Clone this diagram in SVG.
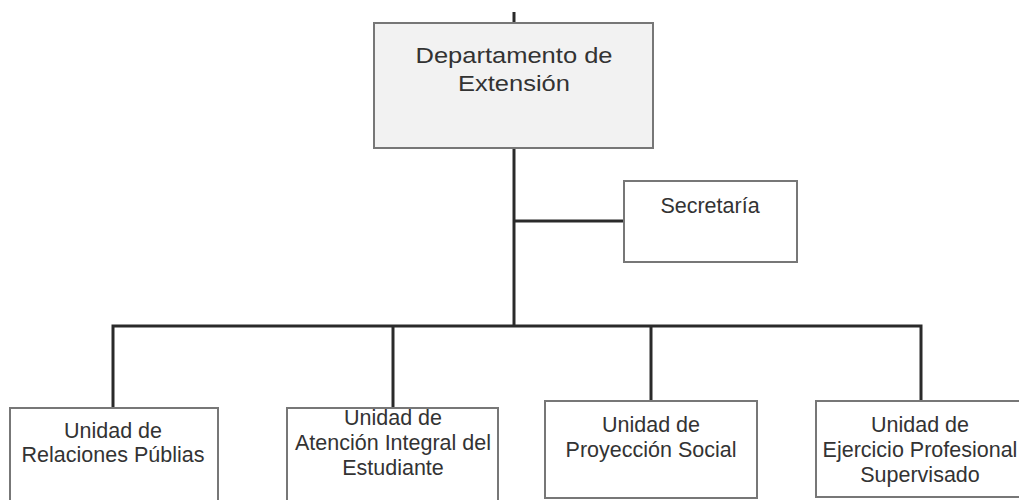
<svg xmlns="http://www.w3.org/2000/svg" width="1019" height="500" viewBox="0 0 1019 500">
<style>
.box{fill:#ffffff;stroke:#777777;stroke-width:2}
.main{fill:#f2f2f2;stroke:#777777;stroke-width:2}
.ln{stroke:#2a2a2a;stroke-width:3;fill:none}
text{font-family:"Liberation Sans",Arial,sans-serif;fill:#333333;text-anchor:middle}
.t{font-size:21.5px}
.h{font-size:22px}
</style>
<rect width="1019" height="500" fill="#ffffff"/>
<g id="connectors">
<line class="ln" x1="514" y1="12" x2="514" y2="23"/>
<line class="ln" x1="514" y1="148" x2="514" y2="326"/>
<line class="ln" x1="514" y1="221" x2="624" y2="221"/>
<polyline class="ln" points="113,408 113,326 921,326 921,401"/>
<line class="ln" x1="393" y1="326" x2="393" y2="408"/>
<line class="ln" x1="651" y1="326" x2="651" y2="401"/>
</g>
<g id="departamento">
<rect class="main" x="374" y="23" width="279" height="125"/>
<text class="h" x="514" y="63" textLength="197" lengthAdjust="spacingAndGlyphs">Departamento de</text>
<text class="h" x="514" y="91" textLength="112" lengthAdjust="spacingAndGlyphs">Extensión</text>
</g>
<g id="secretaria">
<rect class="box" x="624" y="181" width="173" height="81"/>
<text class="t" x="710" y="213">Secretaría</text>
</g>
<g id="relaciones">
<rect class="box" x="10" y="408" width="208" height="100"/>
<text class="t" x="113" y="438">Unidad de</text>
<text class="t" x="113" y="462">Relaciones Públias</text>
</g>
<g id="atencion">
<rect class="box" x="287" y="408" width="211" height="100"/>
<text class="t" x="393" y="425">Unidad de</text>
<text class="t" x="393" y="450">Atención Integral del</text>
<text class="t" x="393" y="475">Estudiante</text>
</g>
<g id="proyeccion">
<rect class="box" x="545" y="401" width="212" height="97"/>
<text class="t" x="651" y="432">Unidad de</text>
<text class="t" x="651" y="457">Proyección Social</text>
</g>
<g id="ejercicio">
<rect class="box" x="816" y="401" width="208" height="96"/>
<text class="t" x="920" y="432">Unidad de</text>
<text class="t" x="920" y="457">Ejercicio Profesional</text>
<text class="t" x="920" y="482">Supervisado</text>
</g>
</svg>
